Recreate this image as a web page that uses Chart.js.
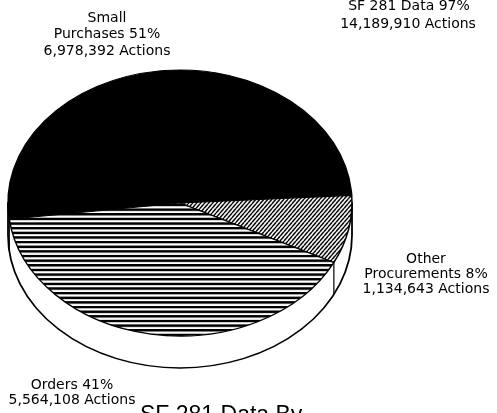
<!DOCTYPE html>
<html>
<head>
<meta charset="utf-8">
<script src="https://cdn.jsdelivr.net/npm/chart.js@4.4.1/dist/chart.umd.min.js"></script>
<style>
  html, body { margin: 0; padding: 0; background: #fff; }
  #wrap { width: 497px; height: 413px; position: relative; overflow: hidden; }
</style>
</head>
<body>
<div id="wrap"><canvas id="pieChart"></canvas></div>
<script>
// Values
const categories = ['Small Purchases', 'Other Procurements', 'Orders'];
const actions = [6978392, 1134643, 5564108];
const percents = [51, 8, 41];
const labelLines = [['Small', 'Purchases'], ['Other', 'Procurements'], ['Orders']];
const totalLabel = 'SF 281 Data';
const totalPercent = 97;
const totalActions = 14189910;
const chartTitle = 'SF 281 Data By';

// Look of the fake 3D pie
const tilt = 133 / 172;
const depth = 32;
const labelFont = '14px "DejaVu Sans"';

function fmt(n) {
    return n.toLocaleString('en-US');
}

// Hatch fills, made on small tiles
function makeHatch(kind) {
    const tile = document.createElement('canvas');
    const c = tile.getContext('2d');
    if (kind === 'horizontal') {
        tile.width = 8; tile.height = 6;
        c.fillStyle = '#fff';
        c.fillRect(0, 0, 8, 6);
        c.fillStyle = '#000';
        c.fillRect(0, 0, 8, 3.2);
    } else {
        tile.width = 4; tile.height = 6;
        c.fillStyle = '#fff';
        c.fillRect(0, 0, 4, 6);
        c.strokeStyle = '#000';
        c.lineWidth = 1.6;
        c.beginPath();
        c.moveTo(0, 6); c.lineTo(4, 0);
        c.moveTo(-4, 6); c.lineTo(0, 0);
        c.moveTo(4, 6); c.lineTo(8, 0);
        c.stroke();
    }
    return c.createPattern(tile, 'repeat');
}

// Squash the pie into an ellipse and draw its side wall first
const wallPlugin = {
    id: 'wall',
    beforeDatasetsDraw(chart) {
        const ctx = chart.ctx;
        const arcs = chart.getDatasetMeta(0).data;
        const { x, y, outerRadius: r } = arcs[0];
        const dd = depth / tilt;
        ctx.save();
        ctx.translate(x, y);
        ctx.scale(1, tilt);
        ctx.translate(-x, -y);

        ctx.beginPath();
        ctx.moveTo(x - r, y);
        ctx.lineTo(x - r, y + dd);
        ctx.arc(x, y + dd, r, Math.PI, 0, true);
        ctx.lineTo(x + r, y);
        ctx.closePath();
        ctx.fillStyle = '#fff';
        ctx.fill();
        ctx.lineWidth = 1.8;
        ctx.strokeStyle = '#000';
        ctx.stroke();

        // seams where slices meet on the front of the wall
        ctx.lineWidth = 1.2;
        arcs.forEach(a => {
            const s = Math.sin(a.startAngle);
            if (s > 0.05) {
                const px = x + r * Math.cos(a.startAngle);
                const py = y + r * s;
                ctx.beginPath();
                ctx.moveTo(px, py);
                ctx.lineTo(px, py + dd);
                ctx.stroke();
            }
        });
    },
    afterDatasetsDraw(chart) {
        chart.ctx.restore();
    }
};

// Free-floating labels as on the original
const labelPos = [
    { x: 107, y: 21.5, lh: 16.8 },
    { x: 426, y: 263, lh: 15 },
    { x: 72, y: 389, lh: 15 }
];

const textPlugin = {
    id: 'texts',
    afterDraw(chart) {
        const ctx = chart.ctx;
        ctx.save();
        ctx.fillStyle = '#000';
        ctx.textAlign = 'center';
        ctx.textBaseline = 'alphabetic';
        ctx.font = labelFont;

        categories.forEach((cat, i) => {
            const lines = labelLines[i].slice();
            lines[lines.length - 1] += ' ' + percents[i] + '%';
            lines.push(fmt(actions[i]) + ' Actions');
            const p = labelPos[i];
            lines.forEach((t, j) => ctx.fillText(t, p.x, p.y + j * p.lh));
        });

        ctx.fillText(totalLabel + ' ' + totalPercent + '%', 409, 10);
        ctx.fillText(fmt(totalActions) + ' Actions', 408, 28);

        ctx.textAlign = 'left';
        ctx.font = '23px "Liberation Sans"';
        ctx.fillText(chartTitle, 140, 422);
        ctx.restore();
    }
};

const pieCtx = document.getElementById('pieChart');
new Chart(pieCtx, {
    type: 'pie',
    data: {
        labels: categories,
        datasets: [{
            data: actions,
            backgroundColor: ['#000', makeHatch('diagonal'), makeHatch('horizontal')],
            borderColor: '#000',
            borderWidth: 1.5,
            clip: false
        }]
    },
    options: {
        responsive: true,
        maintainAspectRatio: false,
        animation: false,
        events: [],
        rotation: 263,
        radius: 172,
        layout: { padding: { left: 0, right: 137, top: 0, bottom: 7 } },
        plugins: {
            legend: { display: false },
            tooltip: { enabled: false }
        }
    },
    plugins: [wallPlugin, textPlugin]
});
</script>
</body>
</html>
